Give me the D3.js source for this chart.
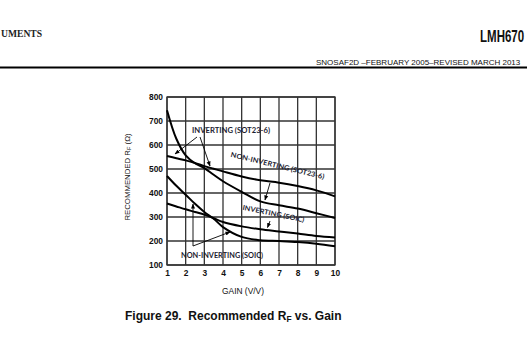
<!DOCTYPE html>
<html><head><meta charset="utf-8">
<script src="https://cdn.jsdelivr.net/npm/d3@7"></script>
<style>html,body{margin:0;padding:0;background:#fff;}svg{display:block;}</style>
</head><body>
<svg id="c" width="527" height="342"></svg>
<script>
const gains = [1, 1.5, 2, 2.5, 3, 3.5, 4, 5, 6, 7, 8, 9, 10];
const nonInvSOT = [745, 626, 557, 524, 504, 476, 449, 405, 365, 349, 335, 316, 296];
const invSOT    = [554, 545, 536, 525, 512, 501, 490, 469, 453, 443, 429, 411, 386];
const nonInvSOIC = [471, 430, 393, 355, 321, 293, 258, 217, 203, 200, 196, 189, 178];
const invSOIC    = [356, 344, 332, 321, 310, 295, 279, 261, 249, 240, 231, 221, 215];
const xTicks = [1, 2, 3, 4, 5, 6, 7, 8, 9, 10];
const yTicks = [100, 200, 300, 400, 500, 600, 700, 800];

const svg = d3.select("#c");
const x = d3.scaleLinear().domain([1, 10]).range([167, 335]);
const y = d3.scaleLinear().domain([100, 800]).range([265, 97]);

// header
svg.append("text").attr("x", 1).attr("y", 37)
  .attr("font-family", "Liberation Serif").attr("font-size", 9.6).attr("font-weight", "bold")
  .attr("fill", "#222").text("UMENTS");
svg.append("g").attr("transform", "translate(480,42) scale(0.72,1)")
  .append("text").attr("x", 0).attr("y", 0)
  .attr("font-family", "Liberation Sans").attr("font-size", 16).attr("font-weight", "bold")
  .attr("fill", "#111").text("LMH670");
svg.append("text").attr("x", 316).attr("y", 65)
  .attr("font-family", "Liberation Sans").attr("font-size", 8.0)
  .attr("fill", "#111").text("SNOSAF2D \u2013FEBRUARY 2005\u2013REVISED MARCH 2013");
svg.append("rect").attr("x", 0).attr("y", 66.5).attr("width", 527).attr("height", 2).attr("fill", "#000");

// grid
const g = svg.append("g");
g.selectAll(".vg").data(xTicks).enter().append("line")
  .attr("x1", d => x(d)).attr("x2", d => x(d)).attr("y1", y(800)).attr("y2", y(100))
  .attr("stroke", "#333").attr("stroke-width", 1.3);
g.selectAll(".hg").data(yTicks).enter().append("line")
  .attr("x1", x(1)).attr("x2", x(10)).attr("y1", d => y(d)).attr("y2", d => y(d))
  .attr("stroke", "#333").attr("stroke-width", 1.3);
g.append("rect").attr("x", x(1)).attr("y", y(800)).attr("width", x(10) - x(1)).attr("height", y(100) - y(800))
  .attr("fill", "none").attr("stroke", "#333").attr("stroke-width", 1.3);

// tick labels
const xAxis = d3.axisBottom(x).tickValues(xTicks).tickSize(0).tickPadding(5).tickFormat(d3.format("d"));
const xa = svg.append("g").attr("transform", `translate(0,${y(100)})`).call(xAxis);
xa.select(".domain").remove();
xa.selectAll("text").attr("font-family", "Liberation Sans").attr("font-size", 8.4).attr("font-weight", "bold").attr("fill", "#111");
const yAxis = d3.axisLeft(y).tickValues(yTicks).tickSize(0).tickPadding(4).tickFormat(d3.format("d"));
const ya = svg.append("g").attr("transform", `translate(${x(1)},0)`).call(yAxis);
ya.select(".domain").remove();
ya.selectAll("text").attr("font-family", "Liberation Sans").attr("font-size", 8.4).attr("font-weight", "bold").attr("fill", "#111");

svg.append("text").attr("x", 243).attr("y", 294).attr("text-anchor", "middle")
  .attr("font-family", "Liberation Sans").attr("font-size", 8.4).attr("fill", "#111").text("GAIN (V/V)");
const yt = svg.append("text").attr("transform", "translate(129.5,177) rotate(-90)").attr("text-anchor", "middle")
  .attr("font-family", "Liberation Sans").attr("font-size", 7.8).attr("fill", "#111");
yt.append("tspan").text("RECOMMENDED R");
yt.append("tspan").attr("font-size", 5.6).attr("dy", 1.5).text("F");
yt.append("tspan").attr("dy", -1.5).text(" (\u03A9)");

// curves
const line = d3.line().x((d, i) => x(gains[i])).y(d => y(d)).curve(d3.curveCatmullRom.alpha(0.5));
[nonInvSOT, invSOT, nonInvSOIC, invSOIC].forEach(s => {
  svg.append("path").attr("d", line(s)).attr("fill", "none").attr("stroke", "#000").attr("stroke-width", 2);
});

// arrow marker
svg.append("defs").append("marker").attr("id", "ah").attr("viewBox", "0 0 10 10")
  .attr("refX", 9).attr("refY", 5).attr("markerWidth", 5).attr("markerHeight", 5)
  .attr("orient", "auto").attr("markerUnits", "userSpaceOnUse")
  .append("path").attr("d", "M0,1 L10,5 L0,9 Z").attr("fill", "#000");

function arrow(x1, y1, x2, y2) {
  svg.append("line").attr("x1", x1).attr("y1", y1).attr("x2", x2).attr("y2", y2)
    .attr("stroke", "#000").attr("stroke-width", 0.9).attr("marker-end", "url(#ah)");
}
function label(txt, cx, cy, rot, len) {
  svg.append("text").attr("transform", `translate(${cx},${cy}) rotate(${rot})`).attr("text-anchor", "middle")
    .attr("font-family", "Lato").attr("font-weight", "bold").attr("font-size", 7)
    .attr("textLength", len).attr("lengthAdjust", "spacingAndGlyphs")
    .attr("fill", "#1c1c30").text(txt);
}

label("INVERTING (SOT23-6)", 231, 132.5, 0, 78);
arrow(197, 137, 175, 154);
arrow(200, 137, 210, 166);

label("NON-INVERTING (SOT23-6)", 277, 168, 13.5, 96);
arrow(270, 183, 265, 200);

label("INVERTING (SOIC)", 273, 216, 11.5, 63);
arrow(270, 221, 267.5, 227.5);

label("NON-INVERTING (SOIC)", 222, 258, 0, 82);
arrow(193, 246, 193, 204);
arrow(193, 246, 230, 232);

// caption
const cap = svg.append("text").attr("x", 125).attr("y", 319.5)
  .attr("font-family", "Liberation Sans").attr("font-weight", "bold").attr("font-size", 12).attr("fill", "#111");
cap.append("tspan").attr("xml:space", "preserve").text("Figure 29.\u00A0 Recommended R");
cap.append("tspan").attr("font-size", 8.4).attr("dy", 2.5).text("F");
cap.append("tspan").attr("dy", -2.5).text(" vs. Gain");
</script>
</body></html>
